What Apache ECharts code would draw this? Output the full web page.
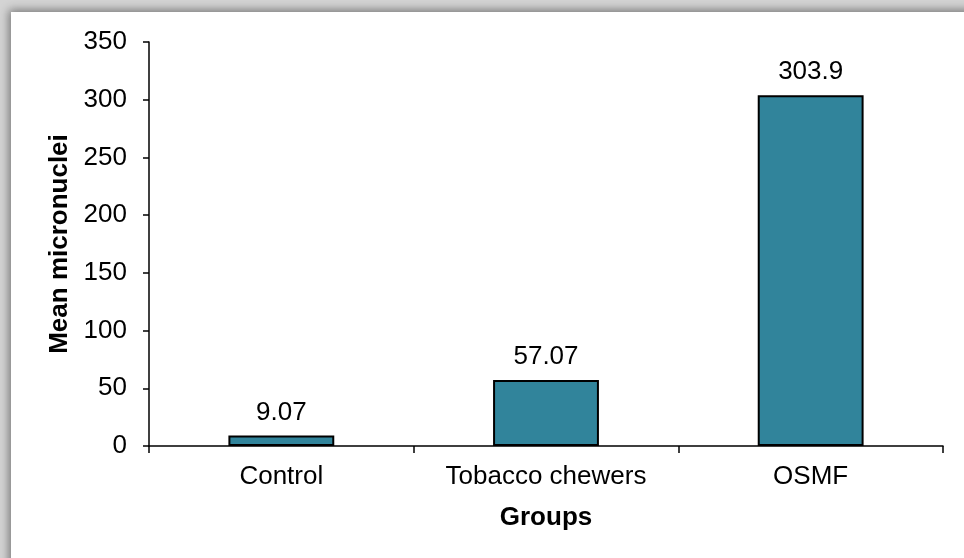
<!DOCTYPE html>
<html>
<head>
<meta charset="utf-8">
<script src="https://cdn.jsdelivr.net/npm/echarts@6/dist/echarts.min.js"></script>
<style>
  html, body { margin: 0; padding: 0; width: 964px; height: 558px; overflow: hidden; background: #d4d4d4; }
  #panel { position: absolute; left: 11px; top: 12px; width: 980px; height: 580px; background: #ffffff;
           box-shadow: -2px -2px 9px rgba(0,0,0,0.45); }
  #chart { position: absolute; left: 0; top: 0; width: 964px; height: 558px; }
</style>
</head>
<body>
<div id="panel"></div>
<div id="chart"></div>
<script>
// Mean micronuclei count per study group
const groups = ['Control', 'Tobacco chewers', 'OSMF'];
const meanMicronuclei = [9.07, 57.07, 303.9];
const yTicks = { min: 0, max: 350, interval: 50 };

const chart = echarts.init(document.getElementById('chart'), null, { renderer: 'canvas' });
const font = 'Liberation Sans, Arial, sans-serif';

chart.setOption({
  backgroundColor: 'transparent',
  animation: false,
  grid: { left: 149, right: 21, top: 42, bottom: 112 },
  xAxis: {
    type: 'category',
    data: groups,
    name: 'Groups',
    nameLocation: 'middle',
    nameGap: 59,
    nameTextStyle: { fontFamily: font, fontSize: 26, fontWeight: 'bold', color: '#000' },
    axisLine: { lineStyle: { color: '#000', width: 1.5 } },
    axisTick: { show: true, length: 7, lineStyle: { color: '#000', width: 1.5 } },
    axisLabel: { fontFamily: font, fontSize: 26, color: '#000', margin: 18 },
    splitLine: { show: false }
  },
  yAxis: {
    type: 'value',
    min: yTicks.min,
    max: yTicks.max,
    interval: yTicks.interval,
    name: 'Mean micronuclei',
    nameLocation: 'middle',
    nameGap: 69,
    nameRotate: 90,
    nameTextStyle: { fontFamily: font, fontSize: 26, fontWeight: 'bold', color: '#000' },
    axisLine: { show: true, lineStyle: { color: '#000', width: 1.5 } },
    axisTick: { show: true, length: 6, lineStyle: { color: '#000', width: 1.5 } },
    axisLabel: { fontFamily: font, fontSize: 26, color: '#000', margin: 22 },
    splitLine: { show: false }
  },
  series: [{
    type: 'bar',
    data: meanMicronuclei,
    barWidth: '40%',
    itemStyle: { color: '#31849b', borderColor: '#000', borderWidth: 2 },
    label: {
      show: true,
      position: 'top',
      distance: 10,
      fontFamily: font,
      fontSize: 26,
      color: '#000',
      formatter: p => String(p.value)
    }
  }]
});
</script>
</body>
</html>
